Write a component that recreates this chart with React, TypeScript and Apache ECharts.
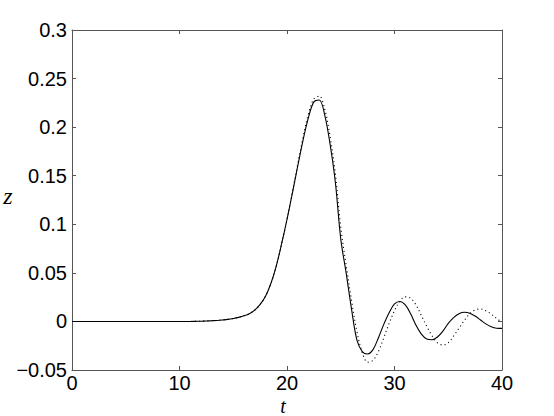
import React, { useEffect, useRef } from "react";
import * as echarts from "echarts";

const xTicks = [0, 10, 20, 30, 40];
const yTicks = [-0.05, 0, 0.05, 0.1, 0.15, 0.2, 0.25, 0.3];

const tGrid = [0, 5, 10, 10.5, 11, 11.5, 12, 12.5, 13, 13.5, 14, 14.5, 15, 15.5, 16, 16.5, 17, 17.5, 18, 18.5, 19, 19.5, 20, 20.5, 21, 21.5, 22, 22.5, 23, 23.5, 24, 24.5, 25, 25.5, 26, 26.5, 27, 27.5, 28, 28.5, 29, 29.5, 30, 30.5, 31, 31.5, 32, 32.5, 33, 33.5, 34, 34.5, 35, 35.5, 36, 36.5, 37, 37.5, 38, 38.5, 39, 39.5, 40];

const solidZ = [0, 0, 0, 0, 0, 0.0001, 0.0002, 0.0004, 0.0007, 0.001, 0.0015, 0.0021, 0.003, 0.0042, 0.0058, 0.008, 0.0117, 0.0175, 0.026, 0.039, 0.057, 0.08, 0.105, 0.132, 0.16, 0.187, 0.21, 0.226, 0.228, 0.213, 0.183, 0.143, 0.085, 0.05, 0.013, -0.019, -0.031, -0.0335, -0.029, -0.017, -0.003, 0.009, 0.018, 0.0205, 0.017, 0.008, -0.004, -0.013, -0.018, -0.0188, -0.016, -0.01, -0.002, 0.004, 0.008, 0.0094, 0.0085, 0.0055, 0.0015, -0.0025, -0.0055, -0.007, -0.0072];

const dottedZ = [0, 0, 0, 0, 0, 0.0001, 0.0002, 0.0004, 0.0007, 0.001, 0.0015, 0.0021, 0.003, 0.0042, 0.0058, 0.008, 0.0117, 0.0175, 0.026, 0.039, 0.057, 0.08, 0.105, 0.133, 0.162, 0.19, 0.214, 0.229, 0.232, 0.219, 0.191, 0.152, 0.097, 0.058, 0.022, -0.01, -0.032, -0.042, -0.04, -0.031, -0.017, -0.002, 0.011, 0.021, 0.0253, 0.024, 0.017, 0.006, -0.005, -0.015, -0.022, -0.0243, -0.022, -0.015, -0.007, 0.001, 0.008, 0.0118, 0.0128, 0.011, 0.0075, 0.003, -0.001];

const fmt = (v: number) => parseFloat(v.toFixed(2)).toString().replace("-", "\u2212");

export default function App() {
  const ref = useRef<HTMLDivElement>(null);
  useEffect(() => {
    if (!ref.current) return;
    const chart = echarts.init(ref.current, undefined, { renderer: "svg" });
    const axisLine = { show: true, onZero: false, lineStyle: { color: "#555", width: 1 } };
    const tickCommon = { show: true, inside: true, length: 4, lineStyle: { color: "#555", width: 1 } };
    const label = { color: "#000", fontSize: 20, fontFamily: "Liberation Sans" };
    const xBase = { type: "value", min: xTicks[0], max: xTicks[xTicks.length - 1], interval: 10, axisLine, axisTick: tickCommon, splitLine: { show: false } };
    const yBase = { type: "value", min: yTicks[0], max: yTicks[yTicks.length - 1], interval: 0.05, axisLine, axisTick: tickCommon, splitLine: { show: false } };
    chart.setOption({
      animation: false,
      backgroundColor: "#fff",
      grid: { left: 72, right: 52, top: 30, bottom: 46, containLabel: false },
      xAxis: [
        { ...xBase, position: "bottom", axisLabel: { ...label, margin: 3, formatter: (v: number) => fmt(v) } },
        { ...xBase, position: "top", axisLabel: { show: false } },
      ],
      yAxis: [
        { ...yBase, position: "left", axisLabel: { ...label, margin: 5, formatter: (v: number) => fmt(v) } },
        { ...yBase, position: "right", axisLabel: { show: false } },
      ],
      series: [
        {
          type: "line", name: "solid", xAxisIndex: 0, yAxisIndex: 0,
          data: tGrid.map((t, i) => [t, solidZ[i]]),
          showSymbol: false, smooth: 0.35,
          lineStyle: { color: "#000", width: 1.1, type: "solid" },
        },
        {
          type: "line", name: "dotted", xAxisIndex: 0, yAxisIndex: 0,
          data: tGrid.map((t, i) => [t, dottedZ[i]]),
          showSymbol: false, smooth: 0.35,
          lineStyle: { color: "#000", width: 1.1, type: [1.1, 3] },
        },
      ],
      graphic: [
        {
          type: "text", x: 8, y: 196,
          style: { text: "z", font: "italic 24px 'Liberation Serif'", fill: "#000", align: "center", verticalAlign: "middle" },
        },
        {
          type: "text", x: 283, y: 405.5,
          style: { text: "t", font: "italic 20px 'Liberation Serif'", fill: "#000", align: "center", verticalAlign: "middle" },
        },
      ],
    });
    return () => chart.dispose();
  }, []);
  return <div ref={ref} style={{ position: "fixed", left: 0, top: 0, width: 554, height: 416 }} />;
}
